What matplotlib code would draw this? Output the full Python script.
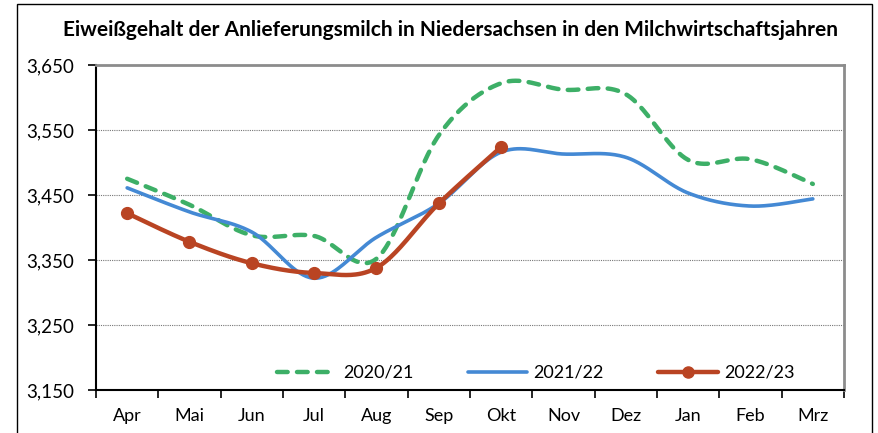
import numpy as np
import matplotlib.pyplot as plt
from matplotlib.ticker import FuncFormatter, FixedLocator
from matplotlib.lines import Line2D
from matplotlib.patches import Rectangle

months = ["Apr", "Mai", "Jun", "Jul", "Aug", "Sep", "Okt", "Nov", "Dez", "Jan", "Feb", "Mrz"]
y2020 = [3.475, 3.435, 3.388, 3.387, 3.352, 3.542, 3.622, 3.612, 3.605, 3.504, 3.505, 3.467]
y2021 = [3.461, 3.424, 3.393, 3.322, 3.385, 3.437, 3.516, 3.513, 3.508, 3.453, 3.433, 3.444]
y2022 = [3.422, 3.378, 3.345, 3.330, 3.338, 3.437, 3.524]

GREEN = "#3daf67"
BLUE = "#4489d4"
RED = "#b94423"

plt.rcParams["font.family"] = ["Lato", "DejaVu Sans"]


def smooth(xs, ys, n=40):
    # Excel-like smoothed line (Catmull-Rom as cubic Bezier)
    p = np.column_stack([xs, ys]).astype(float)
    pts = [p[0]]
    for i in range(len(p) - 1):
        p0 = p[i - 1] if i > 0 else p[i]
        p1, p2 = p[i], p[i + 1]
        p3 = p[i + 2] if i + 2 < len(p) else p[i + 1]
        c1 = p1 + (p2 - p0) / 6
        c2 = p2 - (p3 - p1) / 6
        t = np.linspace(0, 1, n)[1:, None]
        seg = ((1 - t) ** 3) * p1 + 3 * ((1 - t) ** 2) * t * c1 + 3 * (1 - t) * t ** 2 * c2 + t ** 3 * p2
        pts.extend(seg)
    pts = np.array(pts)
    return pts[:, 0], pts[:, 1]


fig = plt.figure(figsize=(8.79, 4.33), dpi=100)
ax = fig.add_axes([96 / 879, 1 - 390 / 433, (844 - 96) / 879, (390 - 65) / 433])

# outer frame
fig.patches.append(Rectangle((17 / 879, -0.1), (872 - 17) / 879, 1.1 - 4 / 433,
                             transform=fig.transFigure, fill=False,
                             edgecolor="black", linewidth=1.0))

x20 = np.arange(len(y2020))
x21 = np.arange(len(y2021))
x22 = np.arange(len(y2022))

dash = (0, (2.4, 2.1))
sx, sy = smooth(x20, y2020)
ax.plot(sx, sy, color=GREEN, linewidth=3.2, linestyle=dash,
        dash_capstyle="round", zorder=3)
sx, sy = smooth(x21, y2021)
ax.plot(sx, sy, color=BLUE, linewidth=2.6, solid_capstyle="round", zorder=4)
sx, sy = smooth(x22, y2022)
ax.plot(sx, sy, color=RED, linewidth=3.2, solid_capstyle="round", zorder=5)
ax.plot(x22, y2022, linestyle="none", marker="o", markersize=8.5, color=RED, zorder=6)

ax.set_xlim(-0.5, 11.5)
ax.set_ylim(3.15, 3.65)
ax.set_yticks([3.15, 3.25, 3.35, 3.45, 3.55, 3.65])
ax.yaxis.set_major_formatter(FuncFormatter(lambda v, _: f"{v:.3f}".replace(".", ",")))
ax.set_xticks(range(12))
ax.set_xticklabels(months)
ax.xaxis.set_minor_locator(FixedLocator(np.arange(-0.5, 12, 1)))
ax.tick_params(axis="x", which="major", length=0, pad=13, labelsize=13)
ax.tick_params(axis="x", which="minor", length=6, width=1.2, direction="out")
ax.tick_params(axis="y", length=6, width=1.2, direction="out", pad=10, labelsize=13.5)

for v in [3.25, 3.35, 3.45, 3.55]:
    ax.axhline(v, color="#777777", linewidth=0.8, linestyle=(0, (1, 1)), zorder=1)

ax.spines["left"].set_linewidth(1.5)
ax.spines["bottom"].set_linewidth(1.5)
ax.spines["top"].set_color("#8c8c8c")
ax.spines["right"].set_color("#8c8c8c")
ax.spines["top"].set_linewidth(2)
ax.spines["right"].set_linewidth(2)

handles = [
    Line2D([], [], color=GREEN, linewidth=3.2, linestyle=dash, dash_capstyle="round"),
    Line2D([], [], color=BLUE, linewidth=2.6, solid_capstyle="round"),
    Line2D([], [], color=RED, linewidth=3.2, marker="o", markersize=8, solid_capstyle="round"),
]
fig.legend(handles, ["2020/21", "2021/22", "2022/23"], loc="center",
           bbox_to_anchor=(536 / 879, 1 - 373 / 433), ncol=3, frameon=False, fontsize=13,
           handlelength=3.3, columnspacing=3.0, handletextpad=0.35)

fig.text(451 / 879, 1 - 30 / 433,
         "Eiweißgehalt der Anlieferungsmilch in Niedersachsen in den Milchwirtschaftsjahren",
         ha="center", va="center", fontsize=15, fontweight="bold")

fig.savefig("out.png", dpi=100)
